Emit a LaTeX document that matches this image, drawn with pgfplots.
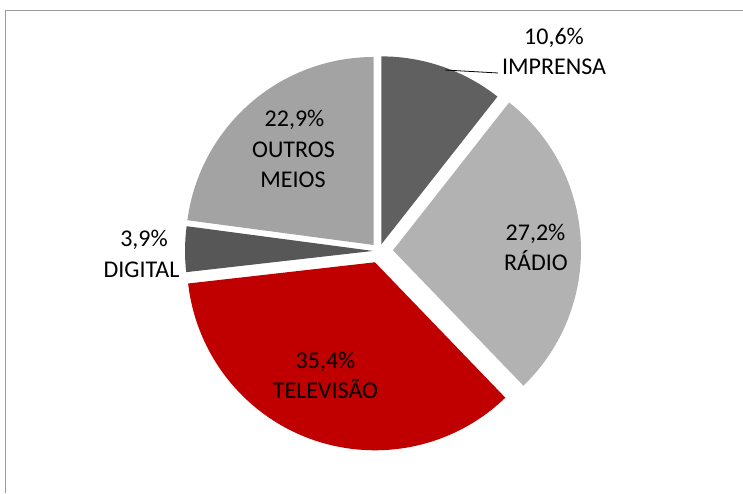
\documentclass[border=0pt]{standalone}
\usepackage{pgfplots}
\pgfplotsset{compat=1.18}
\usepackage{pgfplotstable}
\usepackage{fontspec}
\setmainfont{Carlito}
\definecolor{cImp}{HTML}{606060}
\definecolor{cRad}{HTML}{B2B2B2}
\definecolor{cTv}{HTML}{C00000}
\definecolor{cDig}{HTML}{575757}
\definecolor{cOut}{HTML}{A3A3A3}
\definecolor{frame}{HTML}{9C9C9C}
% share (%), explosion (px), colour; clockwise from 12 o'clock
\pgfplotstableread{
name pct explode color
IMPRENSA 10.6 7 cImp
RADIO 27.2 14 cRad
TELEVISAO 35.4 12 cTv
DIGITAL 3.9 6 cDig
OUTROS 22.9 8 cOut
}\piedata
\begin{document}
\begin{tikzpicture}
\useasboundingbox (0,0) rectangle (743pt,493pt);
\begin{axis}[at={(0,0)}, anchor=south west, scale only axis,
  width=743pt, height=493pt, xmin=0, xmax=743, ymin=0, ymax=493,
  hide axis, clip=false]
\gdef\curang{90}
\pgfplotsforeachungrouped \i in {0,...,4}{%
  \pgfplotstablegetelem{\i}{pct}\of\piedata \let\p\pgfplotsretval
  \pgfplotstablegetelem{\i}{explode}\of\piedata \let\d\pgfplotsretval
  \pgfplotstablegetelem{\i}{color}\of\piedata \let\c\pgfplotsretval
  \pgfmathsetmacro\ea{\curang-3.6*\p}%
  \pgfmathsetmacro\ma{(\curang+\ea)/2}%
  \edef\temp{\noexpand\fill[\c] (axis cs:379,242) ++(\ma:\d pt) -- ++(\curang:188pt)
     arc[start angle=\curang, end angle=\ea, radius=188pt] -- cycle;}%
  \temp
  \global\let\curang\ea
}
\draw[black, line width=0.8pt] (axis cs:445,423) -- (axis cs:498,420);
\tikzset{lab/.style={anchor=base, inner sep=0pt, font=\fontsize{24}{30}\selectfont}}
\node[lab] at (axis cs:554,448) {10,6\%};
\node[lab] at (axis cs:554,418) {IMPRENSA};
\node[lab] at (axis cs:294.5,366) {22,9\%};
\node[lab] at (axis cs:293.5,335) {OUTROS};
\node[lab] at (axis cs:293,305) {MEIOS};
\node[lab] at (axis cs:535.5,252.3) {27,2\%};
\node[lab] at (axis cs:536,222.3) {RÁDIO};
\node[lab] at (axis cs:325.5,125) {35,4\%};
\node[lab] at (axis cs:325.5,94.5) {TELEVISÃO};
\node[lab] at (axis cs:144,247) {3,9\%};
\node[lab] at (axis cs:141.5,216) {DIGITAL};
\end{axis}
\draw[frame, line width=1.5pt] (5.5pt,0pt) -- (5.5pt,482.5pt) -- (743pt,482.5pt);
\end{tikzpicture}
\end{document}
